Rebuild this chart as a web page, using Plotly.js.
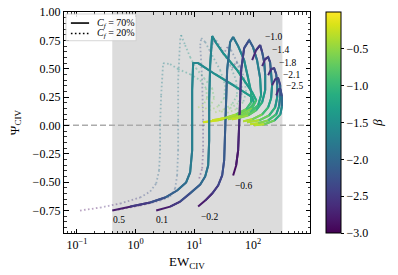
<!DOCTYPE html>
<html><head><meta charset="utf-8">
<script src="https://cdn.plot.ly/plotly-3.0.1.min.js"></script>
<style>html,body{margin:0;padding:0;background:#fff}#chart{width:398px;height:275px}</style>
</head><body><div id="chart"></div>
<script>
// ---------- DATA (EW_CIV, Psi_CIV, beta along each track) ----------
// C_f = 70% (solid)
const s_p05_ew   = [0.40, 0.81, 1.77, 3.18, 5.09, 7.25, 8.48, 9.18, 9.18, 9.18, 9.54, 11.6, 22.6, 49.5, 96.6, 104, 82.5, 49.5, 25.4, 14.1];
const s_p05_psi  = [-0.752, -0.717, -0.681, -0.637, -0.575, -0.504, -0.416, -0.221, 0.0, 0.31, 0.549, 0.549, 0.451, 0.345, 0.248, 0.195, 0.133, 0.080, 0.044, 0.027];
const s_p05_beta = [-2.95, -2.6, -2.35, -2.15, -2.0, -1.9, -1.8, -1.75, -1.7, -1.68, -1.65, -1.62, -1.55, -1.45, -1.35, -1.05, -0.7, -0.4, -0.25, -0.2];

const s_p01_ew   = [2.24, 3.87, 5.73, 8.48, 12.6, 15.3, 17.2, 17.9, 17.9, 18.6, 20.1, 23.5, 31.0, 53.6, 96.6, 113, 96.6, 60.3, 33.5, 20.1];
const s_p01_psi  = [-0.752, -0.717, -0.673, -0.602, -0.522, -0.451, -0.354, -0.133, 0.221, 0.531, 0.788, 0.726, 0.637, 0.487, 0.292, 0.221, 0.150, 0.097, 0.062, 0.044];
const s_p01_beta = [-2.95, -2.6, -2.4, -2.2, -2.0, -1.9, -1.8, -1.75, -1.7, -1.68, -1.65, -1.6, -1.55, -1.45, -1.35, -1.05, -0.7, -0.45, -0.3, -0.2];

const s_m02_ew   = [11.6, 15.3, 20.1, 25.4, 29.8, 32.2, 33.5, 34.8, 36.2, 40.7, 45.8, 55.7, 70.5, 82.5, 92.9, 92.9, 76.3, 51.5, 32.2, 25.4];
const s_m02_psi  = [-0.717, -0.664, -0.602, -0.531, -0.442, -0.310, -0.044, 0.221, 0.487, 0.735, 0.779, 0.699, 0.575, 0.416, 0.292, 0.204, 0.142, 0.097, 0.062, 0.053];
const s_m02_beta = [-2.9, -2.7, -2.55, -2.4, -2.3, -2.2, -2.1, -2.05, -2.0, -1.9, -1.85, -1.75, -1.6, -1.45, -1.3, -1.05, -0.8, -0.5, -0.3, -0.2];

const s_m06_ew   = [45.8, 51.5, 55.7, 58.0, 60.3, 62.7, 70.5, 85.8, 100, 117, 132, 137, 122, 89.2, 60.3, 37.6];
const s_m06_psi  = [-0.442, -0.354, -0.221, 0.0, 0.221, 0.487, 0.681, 0.752, 0.690, 0.575, 0.416, 0.265, 0.177, 0.115, 0.080, 0.053];
const s_m06_beta = [-2.95, -2.85, -2.75, -2.65, -2.55, -2.45, -2.35, -2.2, -2.0, -1.8, -1.6, -1.35, -1.05, -0.75, -0.45, -0.25];

const s_m10_ew   = [96.6, 113, 132, 143, 155, 161, 161, 143, 113, 82.5, 55.7, 44.0];
const s_m10_psi  = [0.575, 0.664, 0.708, 0.646, 0.557, 0.442, 0.310, 0.204, 0.133, 0.088, 0.062, 0.053];
const s_m10_beta = [-2.75, -2.6, -2.5, -2.3, -2.0, -1.75, -1.5, -1.2, -0.9, -0.6, -0.35, -0.22];

const s_m14_ew   = [143, 161, 181, 195, 203, 211, 203, 181, 143, 96.6, 67.8];
const s_m14_psi  = [0.522, 0.584, 0.602, 0.557, 0.469, 0.354, 0.239, 0.159, 0.097, 0.053, 0.035];
const s_m14_beta = [-2.7, -2.55, -2.45, -2.2, -1.9, -1.65, -1.4, -1.1, -0.75, -0.45, -0.22];

const s_m18_ew   = [181, 203, 229, 248, 258, 258, 238, 188, 127, 79.3];
const s_m18_psi  = [0.442, 0.496, 0.504, 0.451, 0.354, 0.248, 0.159, 0.088, 0.044, 0.027];
const s_m18_beta = [-2.7, -2.55, -2.45, -2.2, -1.9, -1.6, -1.25, -0.85, -0.5, -0.22];

const s_m21_ew   = [211, 238, 268, 290, 290, 278, 248, 181, 122, 89.2];
const s_m21_psi  = [0.354, 0.407, 0.416, 0.354, 0.257, 0.168, 0.097, 0.044, 0.018, 0.009];
const s_m21_beta = [-2.7, -2.55, -2.45, -2.2, -1.85, -1.5, -1.1, -0.7, -0.4, -0.2];

const s_m25_ew   = [248, 273, 292, 310, 310, 292, 232, 155, 104];
const s_m25_psi  = [0.265, 0.319, 0.319, 0.257, 0.168, 0.097, 0.044, 0.009, 0.0];
const s_m25_beta = [-2.7, -2.55, -2.4, -2.1, -1.75, -1.35, -0.85, -0.45, -0.2];

// C_f = 20% (dotted)
const d_p05_ew   = [0.113, 0.248, 0.544, 1.19, 1.77, 2.24, 2.51, 2.61, 2.61, 2.72, 2.94, 3.87, 5.30, 8.48, 12.6, 15.9, 16.5, 14.1, 10.7];
const d_p05_psi  = [-0.752, -0.726, -0.690, -0.637, -0.584, -0.513, -0.398, -0.221, 0.0, 0.265, 0.549, 0.540, 0.496, 0.451, 0.398, 0.327, 0.239, 0.177, 0.150];
const d_p05_beta = [-3.0, -2.8, -2.6, -2.4, -2.2, -2.05, -1.9, -1.8, -1.75, -1.7, -1.65, -1.6, -1.5, -1.3, -1.1, -0.9, -0.7, -0.5, -0.35];

const d_p01_ew   = [0.503, 1.19, 2.61, 3.87, 4.71, 5.09, 5.30, 5.30, 5.30, 5.73, 5.96, 6.97, 8.48, 10.7, 14.7, 20.1, 21.7, 18.6, 13.6];
const d_p01_psi  = [-0.743, -0.708, -0.664, -0.628, -0.558, -0.442, -0.221, 0.044, 0.398, 0.752, 0.796, 0.708, 0.602, 0.504, 0.416, 0.327, 0.239, 0.168, 0.133];
const d_p01_beta = [-2.95, -2.7, -2.45, -2.3, -2.15, -2.0, -1.9, -1.8, -1.75, -1.7, -1.65, -1.5, -1.35, -1.2, -1.05, -0.9, -0.7, -0.5, -0.35];

const d_m02_ew   = [12.1, 13.6, 14.1, 14.1, 13.6, 12.6, 13.1, 15.3, 20.1, 27.5, 33.5, 32.2, 25.4, 18.6];
const d_m02_psi  = [-0.469, -0.381, -0.221, 0.044, 0.398, 0.708, 0.770, 0.735, 0.619, 0.487, 0.354, 0.239, 0.168, 0.133];
const d_m02_beta = [-2.9, -2.75, -2.6, -2.45, -2.3, -2.15, -2.05, -1.9, -1.7, -1.5, -1.25, -0.95, -0.65, -0.4];

const d_m06_ew   = [18.6, 20.9, 23.5, 29.8, 40.7, 51.5, 53.6, 44.0, 32.2, 22.6];
const d_m06_psi  = [0.646, 0.735, 0.752, 0.664, 0.531, 0.398, 0.265, 0.186, 0.142, 0.115];
const d_m06_beta = [-2.7, -2.55, -2.4, -2.1, -1.8, -1.5, -1.2, -0.9, -0.6, -0.35];

const d_m10_ew   = [31.0, 36.2, 42.3, 53.6, 62.7, 65.2, 55.7, 40.7, 27.5];
const d_m10_psi  = [0.619, 0.690, 0.664, 0.557, 0.416, 0.283, 0.195, 0.150, 0.115];
const d_m10_beta = [-2.7, -2.55, -2.35, -2.0, -1.65, -1.3, -0.95, -0.65, -0.35];

const d_m14_ew   = [44.0, 51.5, 60.3, 70.5, 76.3, 67.8, 51.5, 34.8];
const d_m14_psi  = [0.504, 0.557, 0.522, 0.416, 0.292, 0.204, 0.142, 0.106];
const d_m14_beta = [-2.65, -2.5, -2.25, -1.85, -1.45, -1.05, -0.7, -0.35];

// track labels
const lab_text = ['0.5', '0.1', '\u22120.2', '\u22120.6', '\u22121.0', '\u22121.4', '\u22121.8', '\u22122.1', '\u22122.5'];
const lab_ew   = [0.524, 2.83, 17.9, 67.8, 220, 290, 381, 446, 502];
const lab_psi  = [-0.832, -0.832, -0.805, -0.531, 0.779, 0.664, 0.549, 0.442, 0.345];

// shaded EW window
const band_ew = [0.4, 316];
const BMIN = -3.0, BMAX = 0.0;
const cb_ticks = [-3.0, -2.5, -2.0, -1.5, -1.0, -0.5];

// ---------- drawing ----------
const VIR = ['#440154','#48186a','#472d7b','#424086','#3b528b','#33638d','#2c728e','#26828e','#21918c','#1fa088','#28ae80','#3fbc73','#5ec962','#84d44b','#addc30','#d8e219','#fde725'];
function hex(h){return [parseInt(h.substr(1,2),16),parseInt(h.substr(3,2),16),parseInt(h.substr(5,2),16)];}
function vcol(b, a){
  let t = (b - BMIN) / (BMAX - BMIN); t = Math.max(0, Math.min(1, t));
  const p = t * (VIR.length - 1); const i = Math.min(Math.floor(p), VIR.length - 2); const f = p - i;
  const c0 = hex(VIR[i]), c1 = hex(VIR[i+1]);
  const c = c0.map((v,k)=>Math.round(v + (c1[k]-v)*f));
  return 'rgba(' + c[0] + ',' + c[1] + ',' + c[2] + ',' + a + ')';
}

const solid = [
  [s_p05_ew, s_p05_psi, s_p05_beta], [s_p01_ew, s_p01_psi, s_p01_beta],
  [s_m02_ew, s_m02_psi, s_m02_beta], [s_m06_ew, s_m06_psi, s_m06_beta],
  [s_m10_ew, s_m10_psi, s_m10_beta], [s_m14_ew, s_m14_psi, s_m14_beta],
  [s_m18_ew, s_m18_psi, s_m18_beta], [s_m21_ew, s_m21_psi, s_m21_beta],
  [s_m25_ew, s_m25_psi, s_m25_beta]
];
const dotted = [
  [d_p05_ew, d_p05_psi, d_p05_beta], [d_p01_ew, d_p01_psi, d_p01_beta],
  [d_m02_ew, d_m02_psi, d_m02_beta], [d_m06_ew, d_m06_psi, d_m06_beta],
  [d_m10_ew, d_m10_psi, d_m10_beta], [d_m14_ew, d_m14_psi, d_m14_beta]
];

const traces = [];
dotted.forEach(([ew, psi, b]) => {
  for (let i = 0; i < ew.length - 1; i++) {
    traces.push({x:[ew[i], ew[i+1]], y:[psi[i], psi[i+1]], mode:'lines', hoverinfo:'skip', showlegend:false,
      line:{color: vcol((b[i]+b[i+1])/2, 0.38), width:1.8, dash:'1.6px,2.4px'}});
  }
});
solid.forEach(([ew, psi, b]) => {
  for (let i = 0; i < ew.length - 1; i++) {
    const j = Math.min(i + 3, ew.length);
    traces.push({x: ew.slice(i, j), y: psi.slice(i, j), mode:'lines', hoverinfo:'skip', showlegend:false,
      line:{color: vcol((b[i]+b[i+1])/2, 1), width:2}});
  }
});
// colour scale carrier (invisible markers on the solid tracks)
const allEw = [].concat(...solid.map(s=>s[0])), allPsi = [].concat(...solid.map(s=>s[1])), allB = [].concat(...solid.map(s=>s[2]));
traces.push({x: allEw, y: allPsi, mode:'markers', hoverinfo:'skip', showlegend:false,
  marker:{size:2, opacity:0, color: allB, cmin:BMIN, cmax:BMAX, colorscale:'Viridis', showscale:true,
    colorbar:{x:1.065, xanchor:'left', xpad:0, y:0.5, yanchor:'middle', ypad:0, len:1, lenmode:'fraction', thickness:15,
      outlinewidth:1, outlinecolor:'#000', ticks:'outside', ticklen:3, tickwidth:1, tickcolor:'#000',
      tickvals: cb_ticks, tickformat:'.1f', tickfont:{family:'Liberation Serif', size:12, color:'#000'},
      title:{text:'<i>β</i>', side:'right', font:{family:'Liberation Serif', size:13, color:'#000'}}}}});

const FONT = 'Liberation Serif';
const minorX = []; for (let d = -2; d <= 3; d++) for (let k = 2; k <= 9; k++) minorX.push(k * Math.pow(10, d));

const annotations = lab_text.map((t, i) => ({x: Math.log10(lab_ew[i]), y: lab_psi[i], xref:'x', yref:'y', text:t,
  showarrow:false, xanchor:'center', yanchor:'middle', font:{family:FONT, size:9.5, color:'#000'}}));
annotations.push({xref:'paper', yref:'paper', x:0.126, y:0.950, xanchor:'left', yanchor:'middle', showarrow:false,
  text:'<i>C</i><sub><i>f</i></sub> = 70%', font:{family:FONT, size:10, color:'#000'}});
annotations.push({xref:'paper', yref:'paper', x:0.126, y:0.903, xanchor:'left', yanchor:'middle', showarrow:false,
  text:'<i>C</i><sub><i>f</i></sub> = 20%', font:{family:FONT, size:10, color:'#000'}});

const shapes = [
  {type:'rect', xref:'x', yref:'paper', x0:band_ew[0], x1:band_ew[1], y0:0, y1:1, fillcolor:'#dcdcdc', line:{width:0}, layer:'below'},
  {type:'line', xref:'paper', yref:'y', x0:0, x1:1, y0:0, y1:0, line:{color:'#ababab', width:1.5, dash:'6px,3px'}, layer:'below'},
  {type:'rect', xref:'paper', yref:'paper', x0:0.008, x1:0.293, y0:0.870, y1:0.991, fillcolor:'rgba(255,255,255,0.85)', line:{color:'#cccccc', width:0.8}, layer:'above'},
  {type:'line', xref:'paper', yref:'paper', x0:0.028, x1:0.102, y0:0.950, y1:0.950, line:{color:'#000', width:1.6}, layer:'above'},
  {type:'line', xref:'paper', yref:'paper', x0:0.028, x1:0.102, y0:0.903, y1:0.903, line:{color:'#000', width:1.6, dash:'1.6px,2.4px'}, layer:'above'}
];

const axCommon = {showline:true, linecolor:'#000', linewidth:1.2, mirror:'allticks', ticks:'inside', ticklen:4.5, tickwidth:1,
  tickcolor:'#000', showgrid:false, zeroline:false, tickfont:{family:FONT, size:12, color:'#000'}};

const layout = {
  width:398, height:275, margin:{l:64, r:88, t:12, b:42}, paper_bgcolor:'#fff', plot_bgcolor:'#fff', showlegend:false,
  xaxis: Object.assign({}, axCommon, {type:'log', range:[-1.22, 2.97],
    tickmode:'array', tickvals:[0.1, 1, 10, 100], ticktext:['10<sup>−1</sup>','10<sup>0</sup>','10<sup>1</sup>','10<sup>2</sup>'],
    minor:{tickmode:'array', tickvals:minorX, ticks:'inside', ticklen:2.5, tickwidth:0.8, tickcolor:'#000'},
    title:{text:'EW<sub>CIV</sub>', font:{family:FONT, size:13, color:'#000'}, standoff:6}}),
  yaxis: Object.assign({}, axCommon, {range:[-0.95, 1.0], tickmode:'array', tickvals:[-0.75,-0.5,-0.25,0,0.25,0.5,0.75,1.0], tickformat:'.2f',
    minor:{dtick:0.05, tick0:0, ticks:'inside', ticklen:2.5, tickwidth:0.8, tickcolor:'#000'},
    title:{text:'Ψ<sub>CIV</sub>', font:{family:FONT, size:13, color:'#000'}, standoff:10}}),
  shapes: shapes, annotations: annotations
};

Plotly.newPlot('chart', traces, layout, {staticPlot:true, displayModeBar:false});
</script></body></html>
